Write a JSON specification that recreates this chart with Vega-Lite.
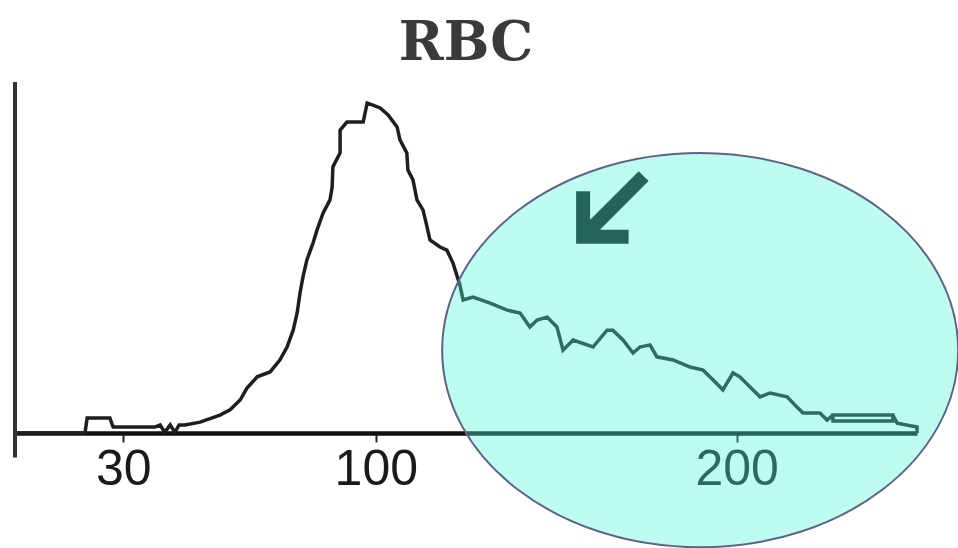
{
  "$schema": "https://vega.github.io/schema/vega-lite/v6.json",
  "width": 902,
  "height": 351,
  "autosize": {"type": "none"},
  "padding": {"left": 15, "top": 82, "right": 41, "bottom": 115},
  "background": "white",
  "config": {"view": {"stroke": null}},
  "title": {"text": "RBC", "font": "DejaVu Serif", "fontWeight": "bold", "fontSize": 54, "color": "#3a3a3a", "anchor": "middle", "baseline": "bottom", "offset": 12, "dy": 57},
  "datasets": {
    "hist": [
      {"i": 0, "v": 0, "n": 0}, {"i": 1, "v": 19.4, "n": 0}, {"i": 2, "v": 20.0, "n": 4.3}, {"i": 3, "v": 26.3, "n": 4.3},
      {"i": 4, "v": 27.2, "n": 1.7}, {"i": 5, "v": 38.8, "n": 1.7}, {"i": 6, "v": 40.2, "n": 2.3}, {"i": 7, "v": 41.5, "n": 0.2},
      {"i": 8, "v": 43.0, "n": 2.3}, {"i": 9, "v": 44.3, "n": 0.2}, {"i": 10, "v": 45.5, "n": 2.3}, {"i": 11, "v": 47.1, "n": 2.3},
      {"i": 12, "v": 51.3, "n": 3.1}, {"i": 13, "v": 56.8, "n": 5.1}, {"i": 14, "v": 59.6, "n": 6.6}, {"i": 15, "v": 62.4, "n": 9.4},
      {"i": 16, "v": 64.3, "n": 12.8}, {"i": 17, "v": 67.1, "n": 16.0}, {"i": 18, "v": 70.7, "n": 17.4}, {"i": 19, "v": 73.4, "n": 20.8},
      {"i": 20, "v": 75.4, "n": 24.5}, {"i": 21, "v": 77.1, "n": 29.3}, {"i": 22, "v": 78.2, "n": 34.2}, {"i": 23, "v": 79.0, "n": 39.9},
      {"i": 24, "v": 79.8, "n": 44.4}, {"i": 25, "v": 80.9, "n": 49.3}, {"i": 26, "v": 82.6, "n": 54.1}, {"i": 27, "v": 83.7, "n": 57.8},
      {"i": 28, "v": 85.4, "n": 62.7}, {"i": 29, "v": 87.3, "n": 66.4}, {"i": 30, "v": 87.9, "n": 70.1}, {"i": 31, "v": 88.1, "n": 75.8},
      {"i": 32, "v": 90.1, "n": 79.8}, {"i": 33, "v": 90.1, "n": 86.3}, {"i": 34, "v": 92.0, "n": 88.6}, {"i": 35, "v": 96.5, "n": 88.6},
      {"i": 36, "v": 97.6, "n": 94.0}, {"i": 37, "v": 99.2, "n": 93.4}, {"i": 38, "v": 101.2, "n": 92.6}, {"i": 39, "v": 103.4, "n": 90.6},
      {"i": 40, "v": 105.9, "n": 87.2}, {"i": 41, "v": 106.7, "n": 83.5}, {"i": 42, "v": 108.6, "n": 79.8}, {"i": 43, "v": 108.9, "n": 74.9},
      {"i": 44, "v": 110.3, "n": 72.1}, {"i": 45, "v": 111.4, "n": 66.4}, {"i": 46, "v": 113.1, "n": 63.5}, {"i": 47, "v": 114.2, "n": 58.7},
      {"i": 48, "v": 115.0, "n": 55.0}, {"i": 49, "v": 117.8, "n": 53.0}, {"i": 50, "v": 119.7, "n": 52.1}, {"i": 51, "v": 121.4, "n": 48.4},
      {"i": 52, "v": 123.3, "n": 42.2}, {"i": 53, "v": 124.2, "n": 37.9}, {"i": 54, "v": 126.9, "n": 38.7}, {"i": 55, "v": 131.7, "n": 37.0},
      {"i": 56, "v": 136.4, "n": 35.0}, {"i": 57, "v": 140.0, "n": 34.2}, {"i": 58, "v": 142.7, "n": 30.2}, {"i": 59, "v": 144.7, "n": 32.2},
      {"i": 60, "v": 147.5, "n": 33.0}, {"i": 61, "v": 150.2, "n": 30.2}, {"i": 62, "v": 151.9, "n": 23.6}, {"i": 63, "v": 154.7, "n": 26.5},
      {"i": 64, "v": 160.2, "n": 24.5}, {"i": 65, "v": 164.1, "n": 29.3}, {"i": 66, "v": 165.7, "n": 29.3}, {"i": 67, "v": 168.5, "n": 26.5},
      {"i": 68, "v": 171.3, "n": 22.8}, {"i": 69, "v": 173.2, "n": 24.5}, {"i": 70, "v": 176.0, "n": 25.1}, {"i": 71, "v": 177.9, "n": 21.7},
      {"i": 72, "v": 182.4, "n": 20.8}, {"i": 73, "v": 187.1, "n": 18.8}, {"i": 74, "v": 190.7, "n": 17.9}, {"i": 75, "v": 193.5, "n": 15.1},
      {"i": 76, "v": 196.2, "n": 12.3}, {"i": 77, "v": 199.0, "n": 17.1}, {"i": 78, "v": 200.9, "n": 16.0}, {"i": 79, "v": 204.5, "n": 12.3},
      {"i": 80, "v": 206.5, "n": 10.3}, {"i": 81, "v": 209.3, "n": 11.4}, {"i": 82, "v": 214.0, "n": 10.3}, {"i": 83, "v": 216.7, "n": 7.4},
      {"i": 84, "v": 218.4, "n": 5.7}, {"i": 85, "v": 223.1, "n": 5.7}, {"i": 86, "v": 225.1, "n": 3.7}, {"i": 87, "v": 226.7, "n": 5.1},
      {"i": 88, "v": 243.3, "n": 5.1}, {"i": 89, "v": 243.3, "n": 3.4}, {"i": 90, "v": 226.7, "n": 3.4}, {"i": 91, "v": 226.7, "n": 5.1},
      {"i": 92, "v": 243.3, "n": 5.1}, {"i": 93, "v": 244.5, "n": 2.8}, {"i": 94, "v": 250, "n": 1.7}, {"i": 95, "v": 250, "n": 0}
    ],
    "yaxis": [{"v": 0, "lo": -7, "hi": 100}],
    "arrow": [{"v": 165.7, "n": 64.4}],
    "ellipse": [{"v": 189.9, "n": 23.6}]
  },
  "layer": [
    {
      "data": {"name": "hist"},
      "mark": {"type": "line", "color": "#1e1e1e", "strokeWidth": 3.5, "strokeJoin": "miter"},
      "encoding": {
        "x": {"field": "v", "type": "quantitative", "scale": {"domain": [0, 250], "nice": false},
          "axis": {"values": [30, 100, 200], "title": null, "grid": false, "domainColor": "#111111", "domainWidth": 4.5,
            "tickColor": "#222222", "tickWidth": 2, "tickSize": 9, "labelFont": "Liberation Sans", "labelFontSize": 50,
            "labelColor": "#1a1a1a", "labelPadding": 2, "labelDx": -10, "labelFlush": false}},
        "y": {"field": "n", "type": "quantitative", "scale": {"domain": [0, 100], "nice": false, "zero": false}, "axis": null},
        "order": {"field": "i", "type": "quantitative"}
      }
    },
    {
      "data": {"name": "yaxis"},
      "mark": {"type": "rule", "color": "#333333", "strokeWidth": 4},
      "encoding": {
        "x": {"field": "v", "type": "quantitative"},
        "y": {"field": "lo", "type": "quantitative"},
        "y2": {"field": "hi"}
      }
    },
    {
      "data": {"name": "arrow"},
      "mark": {"type": "point", "filled": false, "stroke": "#111111", "strokeWidth": 14, "opacity": 1, "strokeJoin": "miter", "strokeCap": "butt",
        "shape": "M0.88,-0.88L-0.8,0.8M-0.85,-0.45L-0.85,0.85L0.45,0.85", "size": 4900},
      "encoding": {
        "x": {"field": "v", "type": "quantitative"},
        "y": {"field": "n", "type": "quantitative"}
      }
    },
    {
      "data": {"name": "ellipse"},
      "mark": {"type": "point", "filled": true, "fill": "#4af6d3", "fillOpacity": 0.365, "stroke": "#5b6488", "strokeWidth": 2, "strokeOpacity": 1, "opacity": 1,
        "shape": "M-1,0A1,0.764 0 1,1 1,0A1,0.764 0 1,1 -1,0Z", "size": 266256},
      "encoding": {
        "x": {"field": "v", "type": "quantitative"},
        "y": {"field": "n", "type": "quantitative"}
      }
    }
  ]
}
